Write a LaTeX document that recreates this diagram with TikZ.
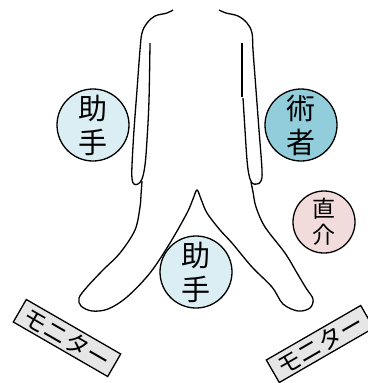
\documentclass[tikz,border=0pt]{standalone}
\usepackage{fontspec}
\usepackage{xcolor}
\newfontfamily\cjk{Noto Sans CJK JP}
\definecolor{assistblue}{HTML}{DAEEF3}
\definecolor{surgeonblue}{HTML}{92CDDC}
\definecolor{directpink}{HTML}{F2DCDB}
\definecolor{monitorgray}{HTML}{E6E6E6}

\begin{document}
\begin{tikzpicture}[x=1pt,y=-1pt,line width=1.3pt]
    \tikzstyle{staff}=[circle,draw=black,minimum size=72pt,inner sep=0pt,align=center,
        font=\cjk\fontsize{29}{34}\selectfont]
    \tikzstyle{assistant}=[staff, fill=assistblue]
    \tikzstyle{surgeon}=[staff, fill=surgeonblue]
    \tikzstyle{direct}=[staff, fill=directpink, minimum size=62pt,
        font=\cjk\fontsize{23}{26}\selectfont]
    \tikzstyle{monitor}=[rectangle,draw=black,fill=monitorgray,minimum width=109pt,
        minimum height=26pt,inner sep=0pt,font=\cjk\fontsize{24}{24}\selectfont]

    \useasboundingbox (0,0) rectangle (367,383);

    % patient outline
    \draw plot[smooth,tension=0.6] coordinates {(150,43) (149,100) (147,140)
        (145,165) (142,179) (138,184) (134,184) (132,179) (132,165) (134,130) (137,90)
        (140,50) (142,33) (147,23) (155,16) (167,13) (173,10)};
    \draw (242,43) -- (242,97);
    \draw plot[smooth,tension=0.6] coordinates {(243,98) (245,130) (247,160)
        (249,175) (252,183) (257,184) (261,181) (262,170) (259,130) (256,90) (253,50)
        (252,33) (247,23) (238,16) (226,13) (219,10)};
    \draw plot[smooth,tension=0.55] coordinates {(142,181) (141,195) (140,207)
        (135,230) (120,253) (103,270) (87,287) (79,298) (81,306) (92,311) (108,309)
        (127,297) (150,273) (170,243) (187,213) (193,199) (197,190) (201,199) (207,213)
        (220,230) (232,243) (252,267) (272,287) (283,304) (298,311) (310,308) (313,299)
        (306,288) (297,273) (285,253) (265,227) (256,207) (253,192) (251,182)};

    \node[assistant] (assist-1) at (93,125) {助\\手};
    \node[surgeon] (surgeon) at (301,125) {術\\者};
    \node[direct] (direct) at (324,222) {直\\介};
    \node[assistant] (assist-2) at (196,272) {助\\手};

    \node[monitor,rotate=-30] (mon-1) at (67,338) {モニター};
    \node[monitor,rotate=30] (mon-2) at (320,344) {モニター};
\end{tikzpicture}
\end{document}
